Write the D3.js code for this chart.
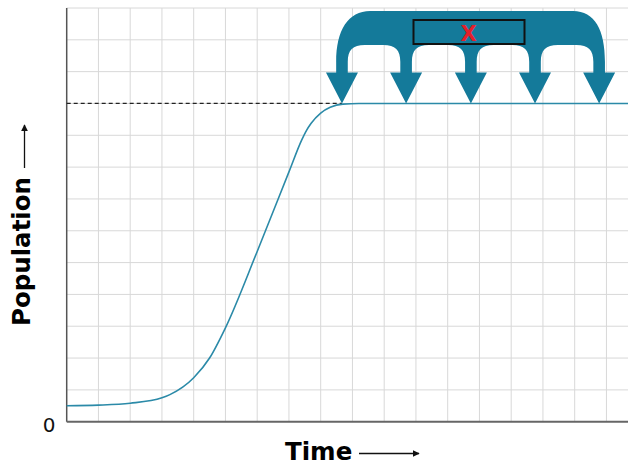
<!DOCTYPE html>
<html><head><meta charset="utf-8">
<script src="https://cdn.jsdelivr.net/npm/d3@7"></script>
<style>html,body{margin:0;padding:0;background:#fff;}svg{display:block;}</style>
</head><body>
<script>
// ---- data ----
const times      = [0, 1, 2, 3, 3.25, 4, 4.5, 5, 6, 7, 7.4, 7.55, 7.7, 8, 8.3, 8.7, 9.2, 18];
const population = [0.5, 0.52, 0.58, 0.75, 0.85, 1.38, 2.0, 2.95, 5.35, 7.85, 8.85, 9.15, 9.38, 9.7, 9.88, 9.98, 10, 10];
const carryingCapacity = 10;
const arrowTimes = [8.67, 10.69, 12.73, 14.75, 16.77];
const xGridTicks = d3.range(0, 18);
const yGridTicks = d3.range(0, 14);
const yTickLabels = ["0"];
const xLabel = "Time";
const yLabel = "Population";
const boxLabel = "X";

const W = 628, H = 467;
const svg = d3.select("body").append("svg").attr("width", W).attr("height", H);

const x = d3.scaleLinear().domain([0, 18]).range([66.7, 66.7 + 18 * 31.75]);
const y = d3.scaleLinear().domain([0, 13]).range([421.7, 8]);

// grid
svg.append("g").selectAll("line").data(xGridTicks.slice(1)).join("line")
  .attr("x1", d => x(d)).attr("x2", d => x(d)).attr("y1", y(13)).attr("y2", y(0))
  .attr("stroke", "#d8d8d8").attr("stroke-width", 1);
svg.append("g").selectAll("line").data(yGridTicks.slice(1)).join("line")
  .attr("x1", x(0)).attr("x2", W).attr("y1", d => y(d)).attr("y2", d => y(d))
  .attr("stroke", "#d8d8d8").attr("stroke-width", 1);

// axes lines
svg.append("line").attr("x1", x(0)).attr("x2", x(0)).attr("y1", y(13)).attr("y2", y(0))
  .attr("stroke", "#555").attr("stroke-width", 1.5);
svg.append("line").attr("x1", x(0)).attr("x2", W).attr("y1", y(0)).attr("y2", y(0))
  .attr("stroke", "#666").attr("stroke-width", 2);

// dashed carrying capacity
svg.append("line").attr("x1", x(0)).attr("x2", x(arrowTimes[0])).attr("y1", y(carryingCapacity)).attr("y2", y(carryingCapacity))
  .attr("stroke", "#222").attr("stroke-width", 1.2).attr("stroke-dasharray", "4,3");

// curve
const line = d3.line().x((d, i) => x(times[i])).y(d => y(d)).curve(d3.curveMonotoneX);
svg.append("path").attr("d", line(population)).attr("fill", "none")
  .attr("stroke", "#2b8aa8").attr("stroke-width", 1.6);

// arrow annotation
const tips = arrowTimes.map(t => x(t));
const tipY = y(carryingCapacity);
const baseY = tipY - 31, bandTop = 11, bandBot = 45, sw = 5.8, hw = 16;
const p = d3.path();
const n = tips.length;
p.moveTo(tips[0] - sw, baseY);
p.lineTo(tips[0] - sw, 62);
p.bezierCurveTo(tips[0] - sw, 30, tips[0] - sw + 12, bandTop, tips[0] - sw + 34, bandTop);
p.lineTo(tips[n - 1] + sw - 32, bandTop);
p.bezierCurveTo(tips[n - 1] + sw - 10, bandTop, tips[n - 1] + sw, 30, tips[n - 1] + sw, 62);
p.lineTo(tips[n - 1] + sw, baseY);
for (let i = n - 1; i >= 0; i--) {
  const t = tips[i];
  p.lineTo(t + hw, baseY);
  p.lineTo(t, tipY);
  p.lineTo(t - hw, baseY);
  p.lineTo(t - sw, baseY);
  if (i > 0) {
    const R = t - sw, L = tips[i - 1] + sw;
    p.lineTo(R, 62);
    p.bezierCurveTo(R, 50, R - 5, bandBot, R - 17, bandBot);
    p.lineTo(L + 17, bandBot);
    p.bezierCurveTo(L + 5, bandBot, L, 50, L, 62);
    p.lineTo(L, baseY);
  }
}
p.closePath();
svg.append("path").attr("d", p.toString()).attr("fill", "#147a9a");

// box with X
svg.append("rect").attr("x", 413.5).attr("y", 20).attr("width", 111).attr("height", 24)
  .attr("fill", "#147a9a").attr("stroke", "#111").attr("stroke-width", 2);
svg.append("text").attr("x", 468.5).attr("y", 41).attr("text-anchor", "middle")
  .attr("font-family", "DejaVu Sans").attr("font-weight", "bold").attr("font-size", 21)
  .attr("fill", "#e3202b").text(boxLabel);

// tick label 0
svg.append("g").selectAll("text").data(yTickLabels).join("text")
  .attr("x", 49).attr("y", d => y(+d) + 10).attr("text-anchor", "middle")
  .attr("font-family", "DejaVu Sans").attr("font-size", 20).attr("fill", "#111").text(d => d);

// axis titles
svg.append("text").attr("transform", "translate(30,251.5) rotate(-90)").attr("text-anchor", "middle")
  .attr("font-family", "DejaVu Sans").attr("font-weight", "bold").attr("font-size", 24.5)
  .attr("fill", "#000").text(yLabel);
svg.append("text").attr("x", 285).attr("y", 460)
  .attr("font-family", "DejaVu Sans").attr("font-weight", "bold").attr("font-size", 24.5)
  .attr("fill", "#000").text(xLabel);

// arrows by titles
const defs = svg.append("defs");
defs.append("marker").attr("id", "ah").attr("viewBox", "0 0 10 10").attr("refX", 9).attr("refY", 5)
  .attr("markerWidth", 7).attr("markerHeight", 7).attr("markerUnits", "userSpaceOnUse").attr("orient", "auto")
  .append("path").attr("d", "M0,0 L10,5 L0,10 Z").attr("fill", "#111");
svg.append("line").attr("x1", 24.5).attr("x2", 24.5).attr("y1", 168).attr("y2", 125)
  .attr("stroke", "#111").attr("stroke-width", 1.3).attr("marker-end", "url(#ah)");
svg.append("line").attr("x1", 359).attr("x2", 419).attr("y1", 453.5).attr("y2", 453.5)
  .attr("stroke", "#111").attr("stroke-width", 1.3).attr("marker-end", "url(#ah)");
</script>
</body></html>
